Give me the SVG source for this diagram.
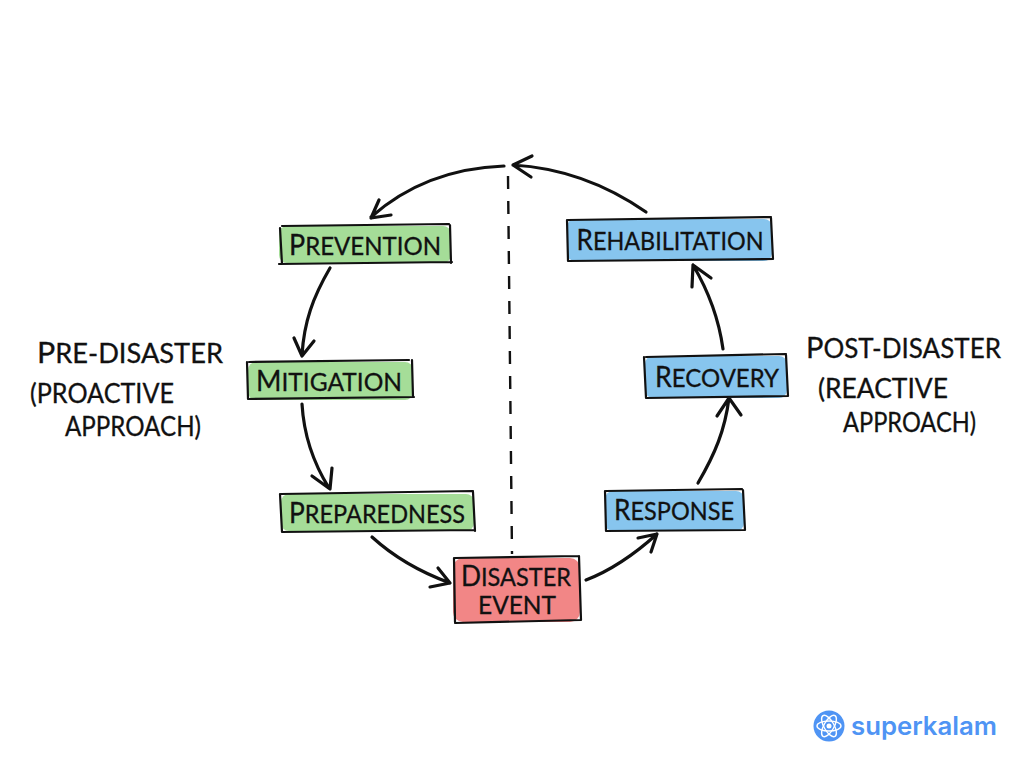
<svg xmlns="http://www.w3.org/2000/svg" width="1024" height="768" viewBox="0 0 1024 768">
<style>
text{font-family:"Lato","Liberation Sans",sans-serif;font-weight:400;fill:#111;stroke:#111;stroke-width:.3}
.n{font-size:25px;text-anchor:middle}
.n .i{font-size:28px}
.s{font-size:26px}
.s .i{font-size:29px}
.b{fill:none;stroke:#111;stroke-width:2.2;stroke-linecap:round}
.c{fill:none;stroke:#111;stroke-width:3.2;stroke-linecap:round;stroke-linejoin:round}
.g{fill:#a5dd98}.u{fill:#87c5ee}.r{fill:#f28686}
</style>
<rect width="1024" height="768" fill="#fff"/>
<g id="connectors">
<path class="c" d="M504 166C450 168 405 187 371 217M371 218L379 200M371 218L391 215"/>
<path class="c" d="M330 268C313 297 304 322 302 355M302 356L294 338M302 356L314 341"/>
<path class="c" d="M302 404C304 438 314 464 329 488M330 489L312 476M330 489L332 468"/>
<path class="c" d="M372 537C395 558 420 572 450 583M450 583L430 587M450 583L438 568"/>
<path class="c" d="M586 580C612 570 636 553 657 534M657 534L638 538M657 534L651 552"/>
<path class="c" d="M698 483C715 454 725 430 729 398M729 398L717 416M729 398L741 415"/>
<path class="c" d="M723 349C719 320 709 292 693 265M693 265L692 287M693 265L711 278"/>
<path class="c" d="M646 212C607 185 565 168 513 165M513 165L532 156M513 165L531 177"/>
<path fill="none" stroke="#111" stroke-width="2.4" stroke-dasharray="13 12" d="M508 176L512 554"/>
</g>
<g id="prevention">
<rect class="g" x="279" y="226" width="172" height="37" rx="8"/>
<path class="b" d="M282 226L449 224M280 228L282 264M279 264L452 262M450 225L451 263"/>
<text class="n" x="365" y="255" textLength="152" lengthAdjust="spacingAndGlyphs"><tspan class="i">P</tspan>REVENTION</text>
</g>
<g id="mitigation">
<rect class="g" x="248" y="362" width="165" height="38" rx="8"/>
<path class="b" d="M249 362L409 360M247 362L248 399M248 399L414 397M412 360L413 397"/>
<text class="n" x="329" y="391" textLength="146" lengthAdjust="spacingAndGlyphs"><tspan class="i">M</tspan>ITIGATION</text>
</g>
<g id="preparedness">
<rect class="g" x="281" y="494" width="193" height="37" rx="8"/>
<path class="b" d="M281 494L473 491M280 494L282 532M282 532L475 530M473 492L475 531"/>
<text class="n" x="377" y="523" textLength="176" lengthAdjust="spacingAndGlyphs"><tspan class="i">P</tspan>REPAREDNESS</text>
</g>
<g id="disaster-event">
<rect class="r" x="453" y="558" width="127" height="64" rx="10"/>
<path class="b" d="M455 558L579 556M454 558L455 622M455 623L581 620M579 556L581 620"/>
<text class="n" x="516" y="586" textLength="110" lengthAdjust="spacingAndGlyphs"><tspan class="i">D</tspan>ISASTER</text>
<text class="n" x="517" y="614" textLength="78" lengthAdjust="spacingAndGlyphs">EVENT</text>
</g>
<g id="response">
<rect class="u" x="605" y="491" width="139" height="40" rx="8"/>
<path class="b" d="M606 491L742 489M605 491L606 531M606 531L745 530M743 490L745 530"/>
<text class="n" x="674" y="520" textLength="120" lengthAdjust="spacingAndGlyphs"><tspan class="i">R</tspan>ESPONSE</text>
</g>
<g id="recovery">
<rect class="u" x="645" y="356" width="142" height="42" rx="8"/>
<path class="b" d="M646 357L786 354M644 357L646 398M646 398L788 396M786 355L788 396"/>
<text class="n" x="717" y="387" textLength="124" lengthAdjust="spacingAndGlyphs"><tspan class="i">R</tspan>ECOVERY</text>
</g>
<g id="rehabilitation">
<rect class="u" x="567" y="219" width="205" height="42" rx="8"/>
<path class="b" d="M568 220L771 217M567 220L568 261M568 261L773 259M771 218L773 259"/>
<text class="n" x="670" y="250" textLength="187" lengthAdjust="spacingAndGlyphs"><tspan class="i">R</tspan>EHABILITATION</text>
</g>
<g id="pre-disaster">
<text class="s" x="37" y="363" textLength="186" lengthAdjust="spacingAndGlyphs"><tspan class="i">P</tspan>RE-DISASTER</text>
<text class="s" x="30" y="403" textLength="144" lengthAdjust="spacingAndGlyphs">(PROACTIVE</text>
<text class="s" x="65" y="436" textLength="136" lengthAdjust="spacingAndGlyphs">APPROACH)</text>
</g>
<g id="post-disaster">
<text class="s" x="806" y="358" textLength="195" lengthAdjust="spacingAndGlyphs"><tspan class="i">P</tspan>OST-DISASTER</text>
<text class="s" x="818" y="398" textLength="130" lengthAdjust="spacingAndGlyphs">(REACTIVE</text>
<text class="s" x="843" y="432" textLength="133" lengthAdjust="spacingAndGlyphs">APPROACH)</text>
</g>
<g id="logo">
<circle cx="829" cy="726" r="15.5" fill="#4f94f4"/>
<g fill="none" stroke="#fff" stroke-width="1.4">
<ellipse cx="829" cy="726" rx="12" ry="5"/>
<ellipse cx="829" cy="726" rx="12" ry="5" transform="rotate(60 829 726)"/>
<ellipse cx="829" cy="726" rx="12" ry="5" transform="rotate(120 829 726)"/>
</g>
<circle cx="829" cy="726" r="2.5" fill="#fff"/>
<text x="851" y="735" font-size="25" style="font-family:'Inter','Liberation Sans',sans-serif;font-weight:600;fill:#4f94f4;stroke:none" textLength="146" lengthAdjust="spacingAndGlyphs">superkalam</text>
</g>
</svg>
